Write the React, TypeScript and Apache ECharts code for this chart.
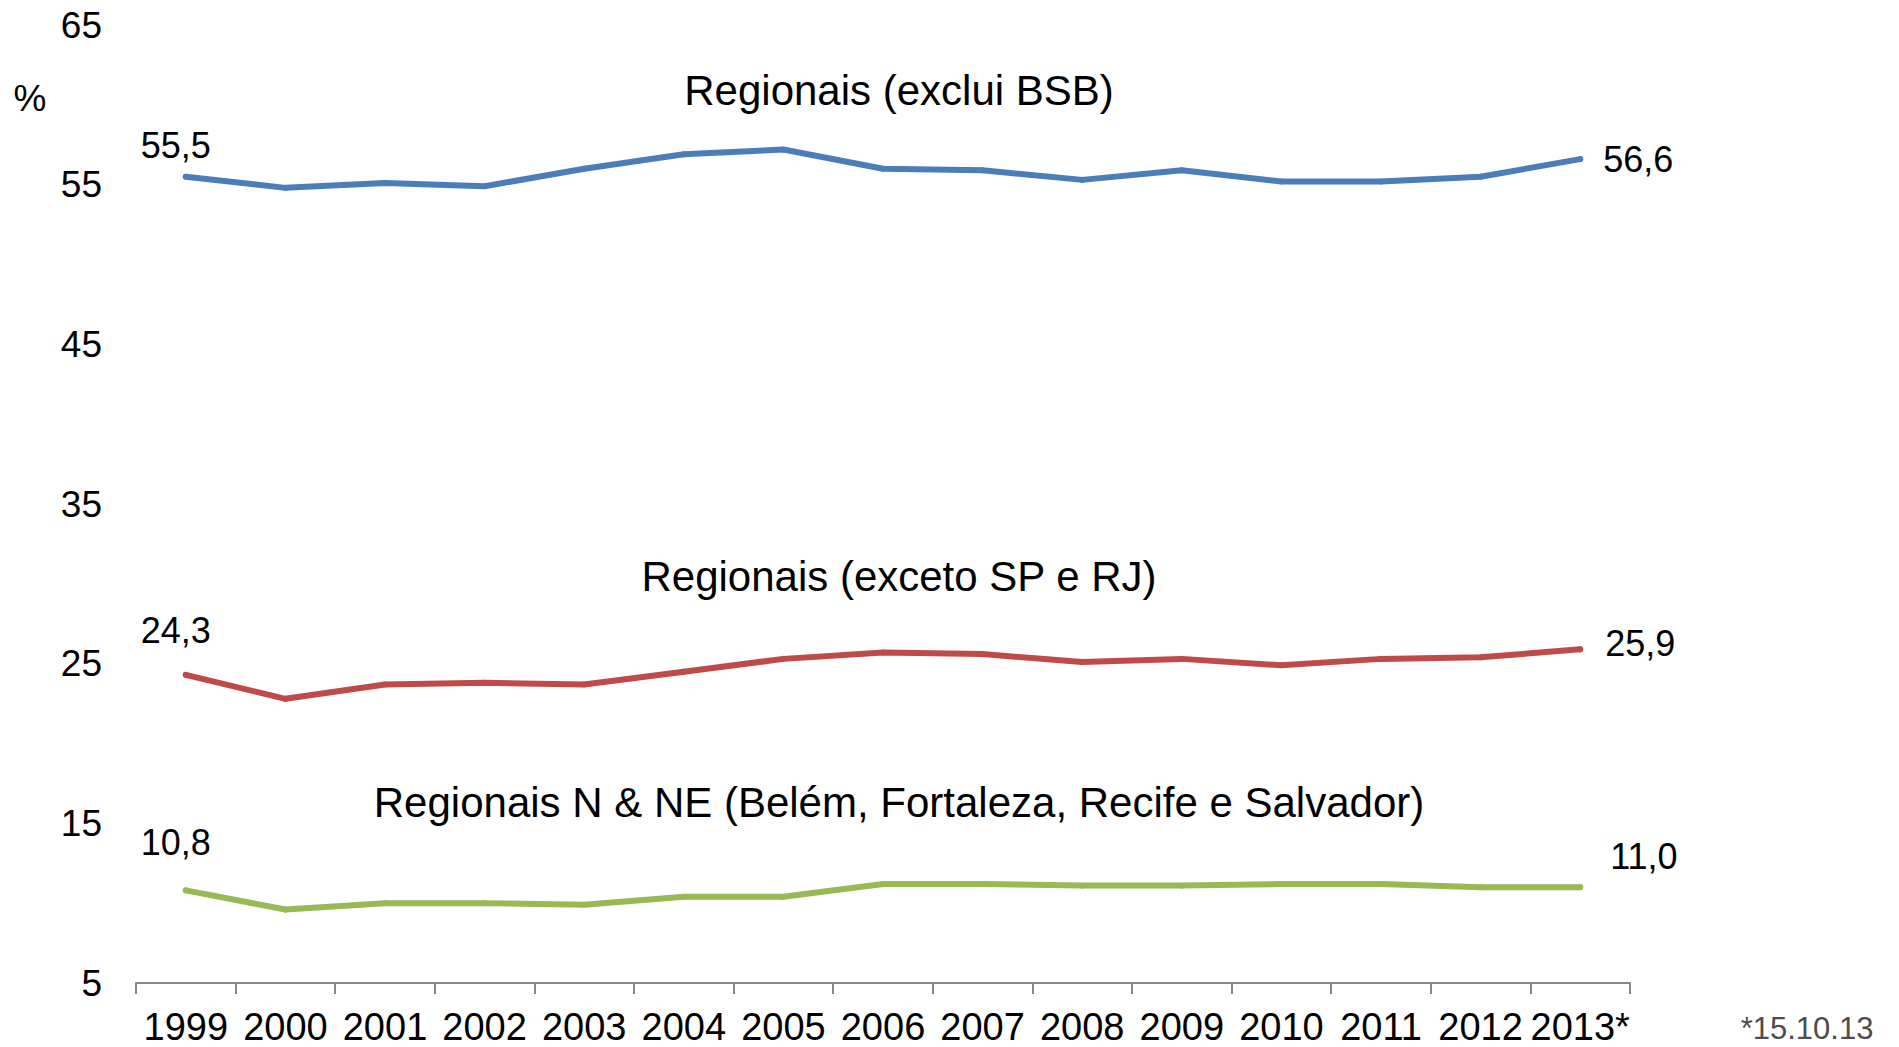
import React, { useEffect, useRef } from "react";
import * as echarts from "echarts";

const years = ["1999", "2000", "2001", "2002", "2003", "2004", "2005", "2006", "2007", "2008", "2009", "2010", "2011", "2012", "2013*"];
const regionaisExcluiBSB = [55.5, 54.8, 55.1, 54.9, 56.0, 56.9, 57.2, 56.0, 55.9, 55.3, 55.9, 55.2, 55.2, 55.5, 56.6];
const regionaisExcetoSPRJ = [24.3, 22.8, 23.7, 23.8, 23.7, 24.5, 25.3, 25.7, 25.6, 25.1, 25.3, 24.9, 25.3, 25.4, 25.9];
const regionaisNNE = [10.8, 9.6, 10.0, 10.0, 9.9, 10.4, 10.4, 11.2, 11.2, 11.1, 11.1, 11.2, 11.2, 11.0, 11.0];
const yTicks = [5, 15, 25, 35, 45, 55, 65];

const seriesNames = [
  "Regionais (exclui BSB)",
  "Regionais (exceto SP e RJ)",
  "Regionais N & NE (Belém, Fortaleza, Recife e Salvador)",
];
const unitLabel = "%";
const footnote = "*15.10.13";

const FONT = "'Liberation Sans', Arial, Helvetica, sans-serif";
const COLORS = ["#4A7EBB", "#BE4B48", "#98B954"];

const fmt = (v: number) => v.toFixed(1).replace(".", ",");

function buildData(values: number[], firstDist: number, lastOffsetY: number, lastDist: number) {
  return values.map((v, i) => {
    if (i === 0) {
      return {
        value: v,
        label: { show: true, position: "top", distance: firstDist, offset: [-10, 0] },
      };
    }
    if (i === values.length - 1) {
      return {
        value: v,
        label: { show: true, position: "right", distance: lastDist, offset: [0, lastOffsetY] },
      };
    }
    return { value: v };
  });
}

export default function App() {
  const ref = useRef<HTMLDivElement>(null);

  useEffect(() => {
    if (!ref.current) return;
    const chart = echarts.init(ref.current, undefined, { renderer: "svg" });

    const mkSeries = (name: string, values: number[], color: string, fd: number, lo: number, ld: number) => ({
      name,
      type: "line",
      data: buildData(values, fd, lo, ld),
      symbol: "circle",
      symbolSize: 6,
      showSymbol: true,
      itemStyle: { color },
      lineStyle: { color, width: 6, cap: "round", join: "round" },
      label: {
        show: false,
        color: "#000",
        fontFamily: FONT,
        fontSize: 36,
        formatter: (p: any) => fmt(p.value),
      },
      emphasis: { disabled: true },
    });

    chart.setOption({
      animation: false,
      backgroundColor: "#ffffff",
      grid: { left: 136, right: 269, top: 25, bottom: 64, containLabel: false },
      xAxis: {
        type: "category",
        data: years,
        boundaryGap: true,
        axisLine: { show: true, lineStyle: { color: "#878787", width: 2 } },
        axisTick: { show: true, length: 11, lineStyle: { color: "#878787", width: 2 } },
        axisLabel: { interval: 0, color: "#000", fontFamily: FONT, fontSize: 38, margin: 25 },
        splitLine: { show: false },
      },
      yAxis: {
        type: "value",
        min: 5,
        max: 65,
        axisLine: { show: false },
        axisTick: { show: false },
        splitLine: { show: false },
        axisLabel: {
          customValues: yTicks,
          color: "#000",
          fontFamily: FONT,
          fontSize: 37,
          margin: 34,
        },
      },
      series: [
        mkSeries(seriesNames[0], regionaisExcluiBSB, COLORS[0], 10, 0, 20),
        mkSeries(seriesNames[1], regionaisExcetoSPRJ, COLORS[1], 23, -6, 22),
        mkSeries(seriesNames[2], regionaisNNE, COLORS[2], 27, -31, 27),
      ],
      graphic: [
        {
          type: "text",
          x: 899,
          y: 90,
          style: { text: seriesNames[0], font: `42px ${FONT}`, fill: "#000", textAlign: "center", textVerticalAlign: "middle" },
        },
        {
          type: "text",
          x: 899,
          y: 576,
          style: { text: seriesNames[1], font: `42px ${FONT}`, fill: "#000", textAlign: "center", textVerticalAlign: "middle" },
        },
        {
          type: "text",
          x: 899,
          y: 802,
          style: { text: seriesNames[2], font: `42px ${FONT}`, fill: "#000", textAlign: "center", textVerticalAlign: "middle" },
        },
        {
          type: "text",
          x: 30,
          y: 98,
          style: { text: unitLabel, font: `37px ${FONT}`, fill: "#000", textAlign: "center", textVerticalAlign: "middle" },
        },
        {
          type: "text",
          x: 1807,
          y: 1028,
          style: { text: footnote, font: `31px ${FONT}`, fill: "#4d4d4d", textAlign: "center", textVerticalAlign: "middle" },
        },
      ],
    });

    return () => chart.dispose();
  }, []);

  return <div ref={ref} style={{ position: "fixed", left: 0, top: 0, width: "1899px", height: "1047px" }} />;
}
